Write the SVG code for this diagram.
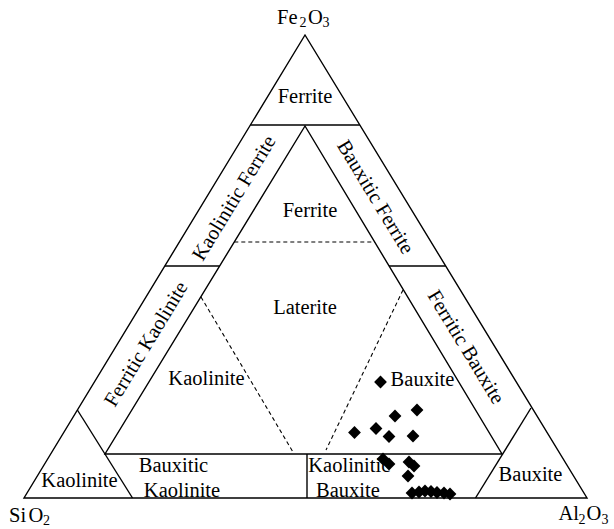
<svg xmlns="http://www.w3.org/2000/svg" width="614" height="529" viewBox="0 0 614 529">
<defs>
<style>
.l{fill:none;stroke:#000;stroke-width:1.4}
.d{fill:none;stroke:#000;stroke-width:1.1;stroke-dasharray:4 3}
text{font-family:"Liberation Serif","Times New Roman",serif;font-size:20.5px;fill:#000}
.c{text-anchor:middle}
.s{font-size:14px}
.pt{fill:#000}
</style>
<path id="pt" d="M0,-6.4 L6.4,0 L0,6.4 L-6.4,0Z"/>
</defs>
<rect width="614" height="529" fill="#fff"/>
<g id="frame">
<path class="l" d="M305,35 L24,498 L587,498 Z"/>
<path class="l" d="M305,126 L105,454 L502,454 Z"/>
<line class="l" x1="250.4" y1="125" x2="359.8" y2="125"/>
<line class="l" x1="77.4" y1="410" x2="132.5" y2="498"/>
<line class="l" x1="531" y1="408" x2="475.5" y2="498"/>
<line class="l" x1="307" y1="454" x2="307" y2="498"/>
<line class="l" x1="165" y1="266" x2="219.6" y2="266"/>
<line class="l" x1="389" y1="266" x2="445.7" y2="266"/>
</g>
<g id="dashed">
<line class="d" x1="234.3" y1="242" x2="374.7" y2="242"/>
<line class="d" x1="201" y1="297" x2="293" y2="452"/>
<line class="d" x1="403" y1="290" x2="326" y2="450"/>
</g>
<g id="vertices">
<text y="24"><tspan x="277">Fe</tspan><tspan class="s" x="299.5" y="26.5">2</tspan><tspan x="308" y="24">O</tspan><tspan class="s" x="322.5" y="27">3</tspan></text>
<text y="521.5"><tspan x="9">Si</tspan><tspan x="28.5">O</tspan><tspan class="s" x="43" y="525">2</tspan></text>
<text y="520"><tspan x="558.5">Al</tspan><tspan class="s" x="578.5" y="523.5">2</tspan><tspan x="586.5" y="520">O</tspan><tspan class="s" x="601.5" y="524">3</tspan></text>
</g>
<g id="labels">
<text class="c" x="305" y="102.5">Ferrite</text>
<text class="c" x="310" y="216.5">Ferrite</text>
<text class="c" x="305" y="314">Laterite</text>
<text class="c" x="206.5" y="385">Kaolinite</text>
<text class="c" x="422.5" y="385.5">Bauxite</text>
<text class="c" x="173.5" y="472">Bauxitic</text>
<text class="c" x="182" y="497">Kaolinite</text>
<text x="308.3" y="471.5">Kaolinitic</text>
<text x="316" y="496.5">Bauxite</text>
<text class="c" x="530.5" y="480.5">Bauxite</text>
<text class="c" x="79.5" y="486.5">Kaolinite</text>
<text class="c" transform="translate(234,198) rotate(-58.75)" y="6.5">Kaolinitic Ferrite</text>
<text class="c" transform="translate(146,344) rotate(-58.75)" y="6.5">Ferritic Kaolinite</text>
<text class="c" transform="translate(375.5,197) rotate(58.75)" y="6.5">Bauxitic Ferrite</text>
<text class="c" transform="translate(466,347) rotate(58.75)" y="6.5">Ferritic Bauxite</text>
</g>
<g id="data" class="pt">
<use href="#pt" x="380.5" y="382"/>
<use href="#pt" x="417" y="410"/>
<use href="#pt" x="395" y="416"/>
<use href="#pt" x="354.5" y="432.5"/>
<use href="#pt" x="376" y="428.5"/>
<use href="#pt" x="389" y="436.5"/>
<use href="#pt" x="413" y="436"/>
<use href="#pt" x="383" y="459"/>
<use href="#pt" x="389" y="464"/>
<use href="#pt" x="409" y="462"/>
<use href="#pt" x="414" y="466"/>
<use href="#pt" x="408" y="476"/>
<use href="#pt" x="412" y="493"/>
<use href="#pt" x="419" y="492"/>
<use href="#pt" x="425" y="491"/>
<use href="#pt" x="431" y="491.5"/>
<use href="#pt" x="437" y="492.5"/>
<use href="#pt" x="444" y="493"/>
<use href="#pt" x="450" y="494"/>
</g>
</svg>
